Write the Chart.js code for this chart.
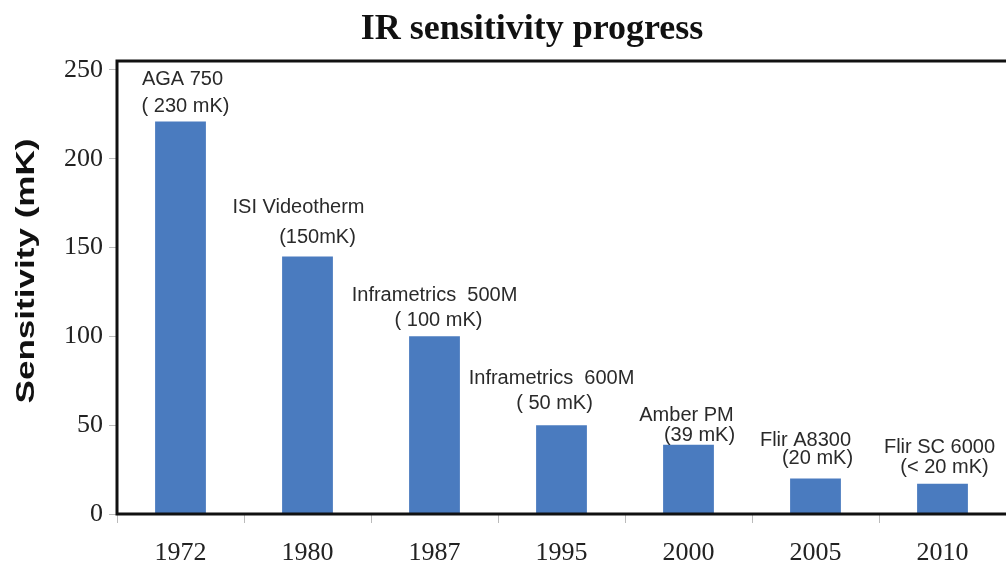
<!DOCTYPE html>
<html>
<head>
<meta charset="utf-8">
<script src="https://cdn.jsdelivr.net/npm/chart.js@4/dist/chart.umd.min.js"></script>
<style>
html,body{margin:0;padding:0;background:#fff;}
#wrap{width:1006px;height:567px;position:relative;}
</style>
</head>
<body>
<div id="wrap"><canvas id="c" width="1006" height="567"></canvas></div>
<script>
const chartTitle = "IR sensitivity progress";
const yAxisTitle = "Sensitivity (mK)";
const years = ["1972", "1980", "1987", "1995", "2000", "2005", "2010"];
const sensitivity = [221, 145, 100, 50, 39, 20, 17];
const cameraNames = ["AGA 750", "ISI Videotherm", "Inframetrics  500M", "Inframetrics  600M", "Amber PM", "Flir A8300", "Flir SC 6000"];
const cameraValues = ["( 230 mK)", "(150mK)", "( 100 mK)", "( 50 mK)", "(39 mK)", "(20 mK)", "(< 20 mK)"];
const yTicks = [0, 50, 100, 150, 200, 250];

// label placement offsets relative to bar centre / bar top (styling only)
const nameOffsets = [[2,-42],[-9,-49],[0,-41],[-10,-47],[-2,-29],[-10,-38],[-3,-36]];
const valueOffsets = [[5,-15],[10,-19],[4,-16],[-7,-22],[11,-9],[2,-20],[2,-16]];

const decor = {
  id: 'decor',
  afterDatasetsDraw(chart) {
    const ctx = chart.ctx;
    const a = chart.chartArea;
    const meta = chart.getDatasetMeta(0);
    ctx.save();
    // frame
    ctx.strokeStyle = '#111';
    ctx.lineWidth = 3;
    ctx.beginPath();
    ctx.moveTo(a.right + 1, a.top);
    ctx.lineTo(a.left, a.top);
    ctx.lineTo(a.left, a.bottom);
    ctx.lineTo(a.right + 1, a.bottom);
    ctx.stroke();
    // annotations
    ctx.fillStyle = '#2a2a2a';
    ctx.font = '20px "Liberation Sans", Arial, sans-serif';
    ctx.textAlign = 'center';
    ctx.textBaseline = 'middle';
    meta.data.forEach((bar, i) => {
      const x = bar.x, y = bar.y;
      ctx.fillText(cameraNames[i], x + nameOffsets[i][0], y + nameOffsets[i][1]);
      ctx.fillText(cameraValues[i], x + valueOffsets[i][0], y + valueOffsets[i][1]);
    });
    // title
    ctx.fillStyle = '#111';
    ctx.font = 'bold 36px "Liberation Serif", "Times New Roman", serif';
    ctx.fillText(chartTitle, 532, 30);
    // y axis title
    ctx.translate(27, 271);
    ctx.rotate(-Math.PI / 2);
    ctx.font = 'bold 25px "Liberation Sans", Arial, sans-serif';
    const w = ctx.measureText(yAxisTitle).width;
    ctx.scale(265 / w, 1);
    ctx.fillStyle = '#111';
    ctx.fillText(yAxisTitle, 0, 0);
    ctx.restore();
  }
};

new Chart(document.getElementById('c'), {
  type: 'bar',
  data: {
    labels: years,
    datasets: [{
      data: sensitivity,
      backgroundColor: '#4a7bbf',
      borderWidth: 0,
      barPercentage: 0.4,
      categoryPercentage: 1.0
    }]
  },
  options: {
    responsive: false,
    animation: false,
    devicePixelRatio: 1,
    layout: { padding: { top: 61, left: 0, right: 0, bottom: 0 } },
    plugins: { legend: { display: false }, tooltip: { enabled: false }, title: { display: false } },
    scales: {
      x: {
        grid: { display: true, drawOnChartArea: false, offset: true, tickLength: 9, color: '#bbb', lineWidth: 1 },
        border: { display: false },
        ticks: { color: '#222', padding: 15, font: { family: '"Liberation Serif", "Times New Roman", serif', size: 26 } },
        afterFit(s) { s.height = 53; }
      },
      y: {
        min: 0,
        max: 255,
        afterBuildTicks(s) { s.ticks = yTicks.map(v => ({ value: v })); },
        grid: { display: true, drawOnChartArea: false, tickLength: 8, color: '#bbb', lineWidth: 1 },
        border: { display: false },
        ticks: { color: '#222', padding: 6, font: { family: '"Liberation Serif", "Times New Roman", serif', size: 26 } },
        afterFit(s) { s.width = 117; }
      }
    }
  },
  plugins: [decor]
});
</script>
</body>
</html>
